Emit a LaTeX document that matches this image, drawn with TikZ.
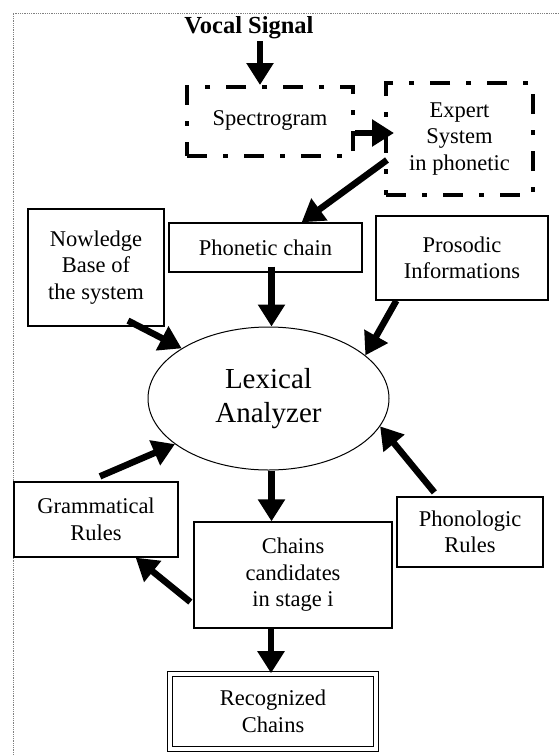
\documentclass[tikz,border=0pt]{standalone}
\usepackage{fontspec}
\setmainfont{Liberation Serif}
\usetikzlibrary{arrows.meta,shapes.geometric}
\tikzstyle{box} = [draw,line width=1.3pt,align=center,inner sep=2,font=\fontsize{22.5}{26.5}\selectfont]
\tikzstyle{dashbox} = [box,line width=4pt,dash pattern=on 20pt off 16pt on 5pt off 16pt]
\tikzstyle{flow} = [line width=6.5pt,-{Triangle[length=22pt,width=26pt]}]

\begin{document}
\begin{tikzpicture}[x=1pt,y=-1pt]
    \useasboundingbox (0,0) rectangle (559,756);
    \draw[gray,densely dotted,line width=0.8pt] (559,13) -| (13,756);

    \node[inner sep=2,font=\fontsize{24.5}{26}\bfseries] (vocal) at (249,28) {Vocal Signal};

    \node[dashbox,minimum width=166,minimum height=69] (spec) at (270,121.5) {\raisebox{6.5pt}{Spectrogram}};
    \node[dashbox,minimum width=147,minimum height=112] (expert) at (459.5,139) {Expert\\System\\in phonetic};

    \node[box,minimum width=193,minimum height=49] (phonetic) at (265.5,247.5) {Phonetic chain};
    \node[box,minimum width=136,minimum height=117] (nowl) at (96,267.5) {Nowledge\\Base of\\the system};
    \node[box,minimum width=172,minimum height=84] (pros) at (462,258) {Prosodic\\Informations};

    \node[draw,ellipse,line width=1pt,minimum width=241,minimum height=143,align=center,
          font=\fontsize{29}{34}\selectfont] (lex) at (268.5,398.5) {Lexical\\Analyzer};

    \node[box,minimum width=164,minimum height=75] (gram) at (96,519.5) {Grammatical\\Rules};
    \node[box,minimum width=198,minimum height=106] (chains) at (293,575) {Chains\\candidates\\in stage i};
    \node[box,minimum width=146,minimum height=70] (phon) at (470,532) {Phonologic\\Rules};

    \node[box,double,line width=1.6pt,double distance=3.5pt,minimum width=206,minimum height=75] (recog) at (273,711.5) {Recognized\\Chains};

    \draw[flow] ([xshift=11]vocal.south) -- ([xshift=11]vocal.south |- spec.north);
    \draw[flow] ([yshift=-11.5]spec.east) -- ([xshift=10,yshift=6]expert.west);
    \draw[flow] ([xshift=3,yshift=-21]expert.west) -- ([xshift=-61]phonetic.north east);

    \draw[flow] ([xshift=3,yshift=6]lex.north |- phonetic.south) -- ([xshift=3]lex.north);
    \draw[flow] ([xshift=32,yshift=6]nowl.south) -- (lex.150);
    \draw[flow] ([xshift=21]pros.south west) -- (lex.24);
    \draw[flow] ([xshift=4,yshift=5]gram.north) -- (lex.206);
    \draw[flow] ([xshift=38,yshift=4]phon.north west) -- (lex.346);

    \draw[flow] ([xshift=3]lex.south) -- ([xshift=3]lex.south |- chains.north);
    \draw[flow] ([xshift=-3,yshift=-27]chains.west) -- ([xshift=-43]gram.south east);
    \draw[flow] ([xshift=-2]recog.north |- chains.south) -- ([xshift=-2]recog.north);
\end{tikzpicture}
\end{document}
